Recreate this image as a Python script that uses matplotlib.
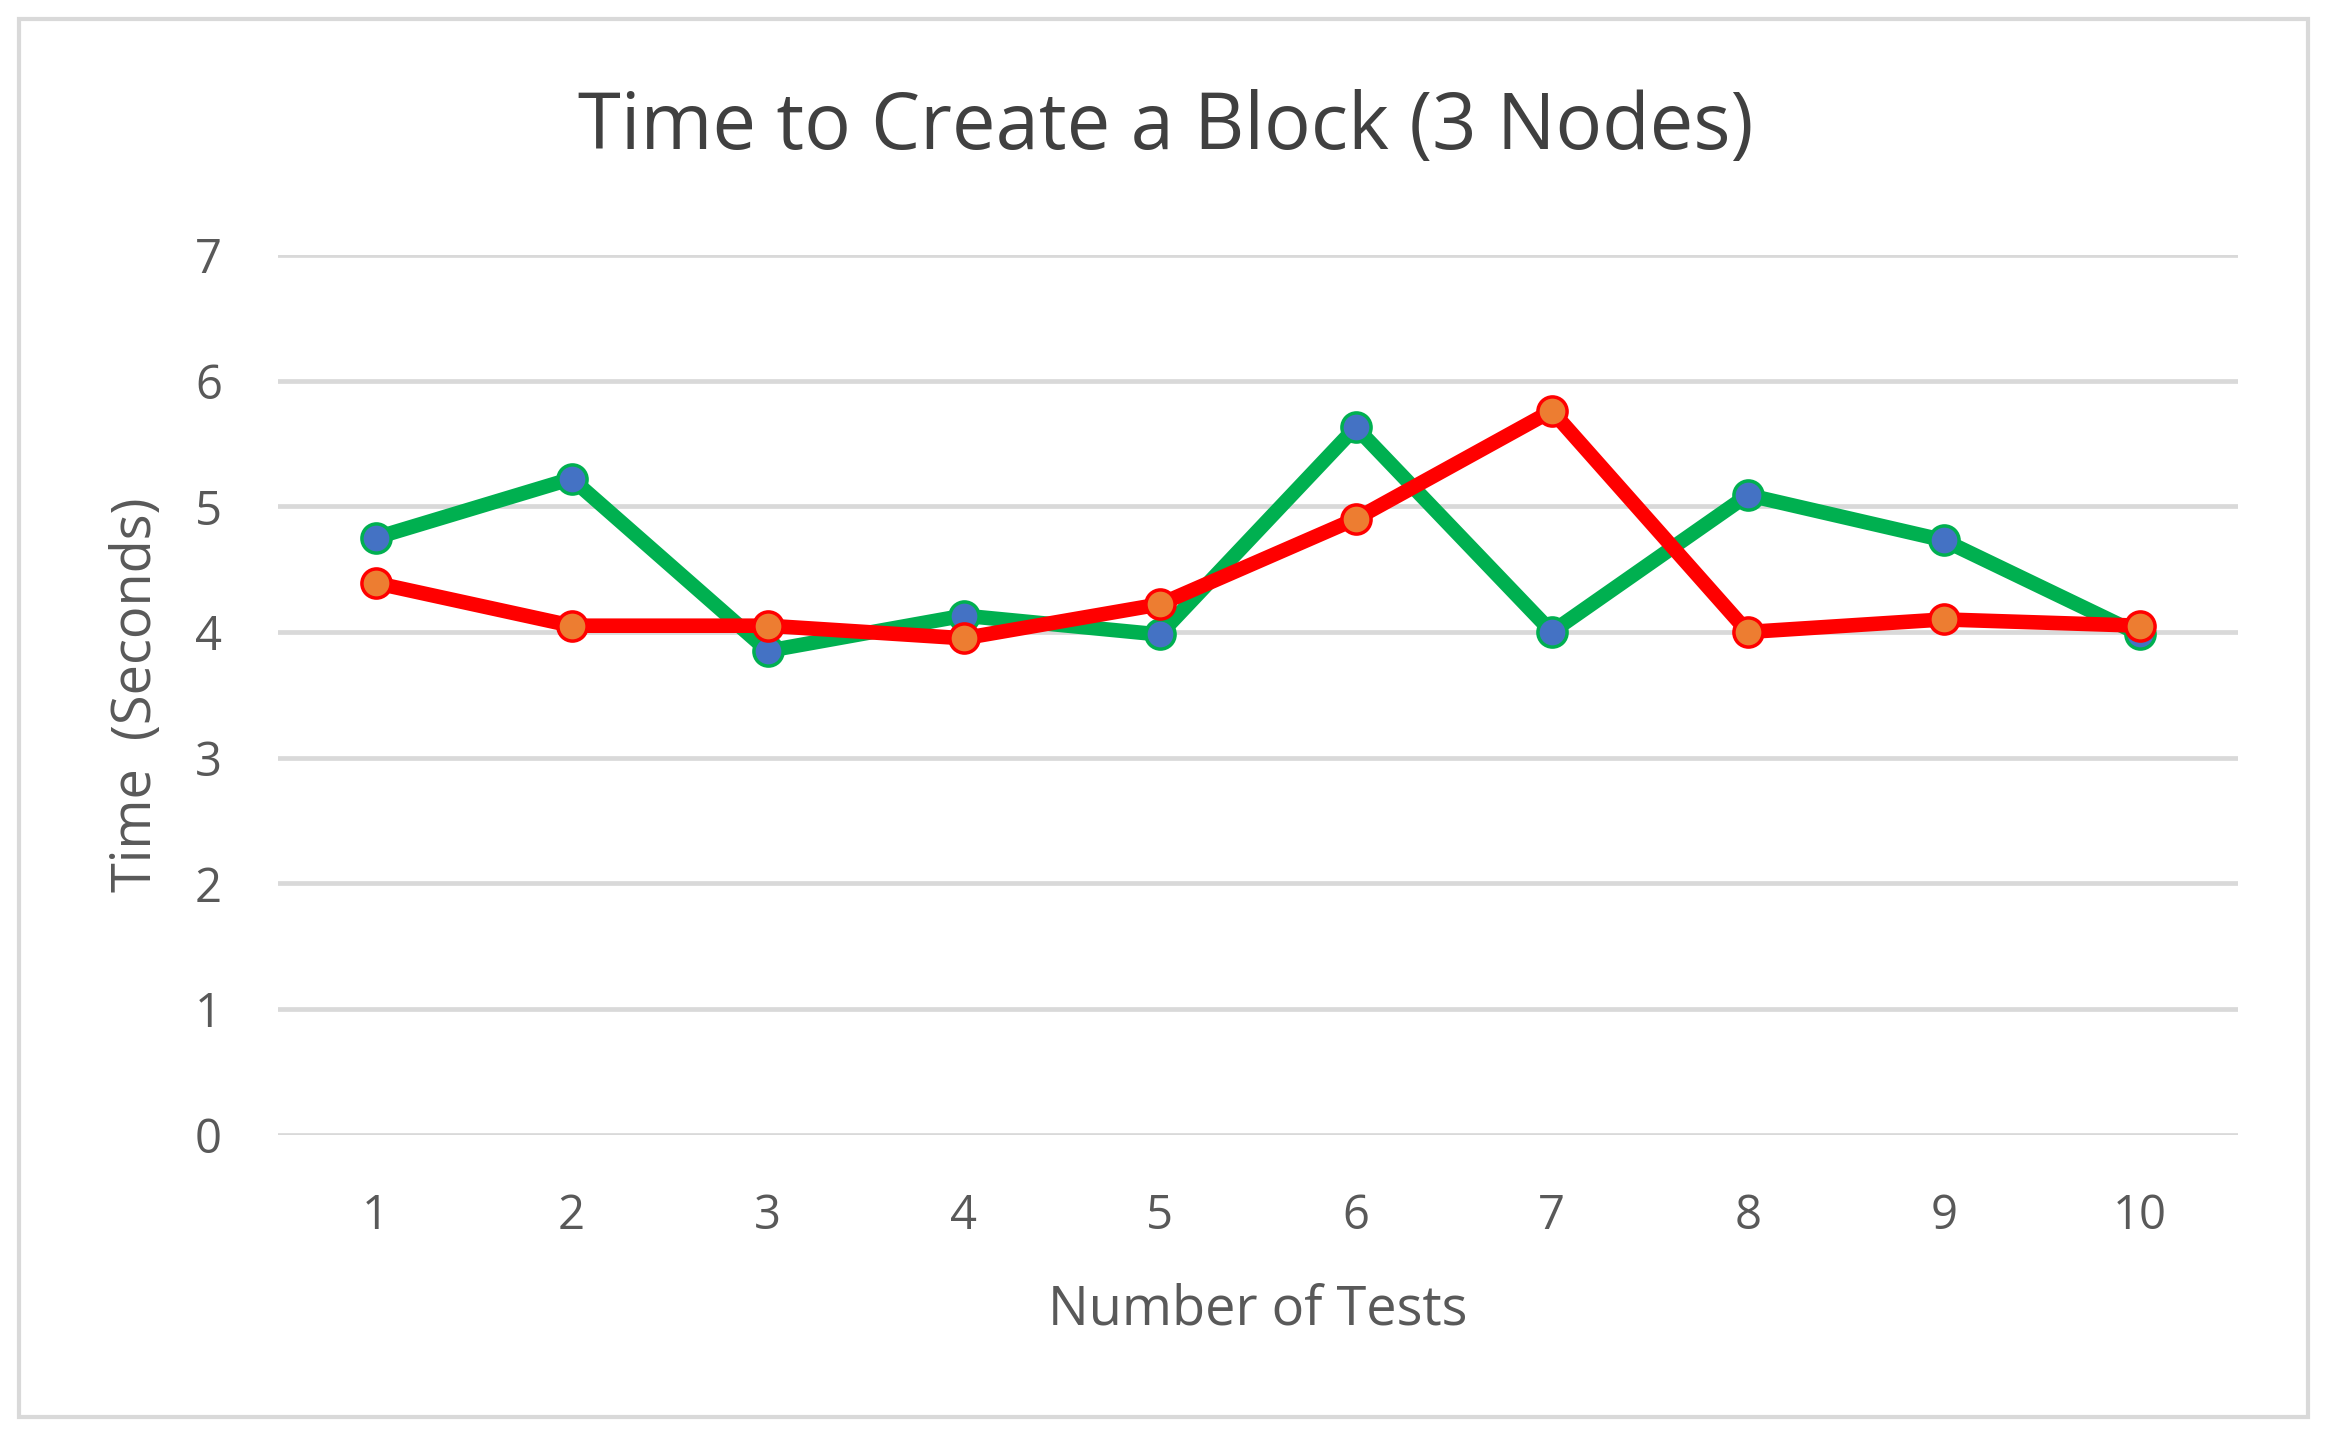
import matplotlib.pyplot as plt
from matplotlib.patches import Rectangle

tests = [1, 2, 3, 4, 5, 6, 7, 8, 9, 10]
series_a = [4.75, 5.22, 3.85, 4.13, 3.98, 5.63, 4.0, 5.09, 4.73, 3.98]
series_b = [4.39, 4.05, 4.05, 3.95, 4.22, 4.90, 5.76, 4.0, 4.10, 4.05]
yticks = [0, 1, 2, 3, 4, 5, 6, 7]

plt.rcParams['font.family'] = ['Open Sans', 'DejaVu Sans']

fig = plt.figure(figsize=(23.27, 14.46), dpi=100)
fig.patches.append(Rectangle((0.008, 0.02), 0.984, 0.967, transform=fig.transFigure,
                             fill=False, edgecolor='#D9D9D9', linewidth=3))
ax = fig.add_axes([0.1193, 0.2154, 0.8424, 0.6082])

ax.plot(tests, series_a, color='#00B050', linewidth=10.5, marker='o', markersize=21,
        markerfacecolor='#4472C4', markeredgecolor='#00B050', markeredgewidth=2.5, zorder=3)
ax.plot(tests, series_b, color='#FF0000', linewidth=10.5, marker='o', markersize=21,
        markerfacecolor='#ED7D31', markeredgecolor='#FF0000', markeredgewidth=2.5, zorder=4)

ax.set_xlim(0.5, 10.5)
ax.set_ylim(0, 7)
ax.set_xticks(tests)
ax.set_yticks(yticks)
ax.grid(True, axis='y', color='#D9D9D9', linewidth=3.4)
ax.set_axisbelow(True)
for s in ax.spines.values():
    s.set_visible(False)
ax.tick_params(length=0, labelsize=34, labelcolor='#595959')
ax.tick_params(axis='x', pad=42)
ax.tick_params(axis='y', pad=40)

ax.set_xlabel('Number of Tests', fontsize=39, color='#595959', labelpad=30)
ax.set_ylabel('Time  (Seconds)', fontsize=39, color='#595959', labelpad=22)
fig.text(0.501, 0.911, 'Time to Create a Block (3 Nodes)', fontsize=56, color='#404040',
         ha='center', va='center')

fig.savefig('out.png', dpi=100)
